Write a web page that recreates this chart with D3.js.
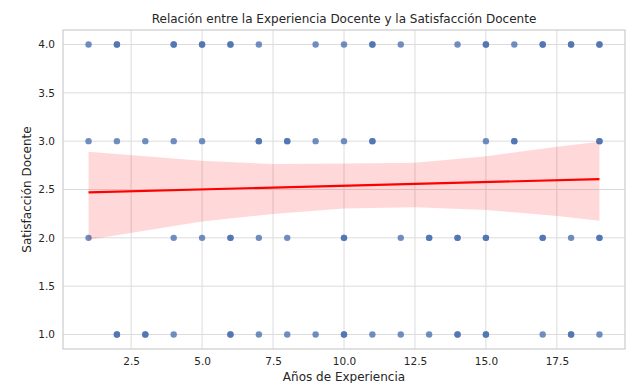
<!DOCTYPE html>
<html>
<head>
<meta charset="utf-8">
<script src="https://cdn.jsdelivr.net/npm/d3@7"></script>
<style>
  html, body { margin: 0; padding: 0; background: #ffffff; }
  svg { display: block; }
  text { font-family: "DejaVu Sans", sans-serif; fill: #262626; }
</style>
</head>
<body>
<svg id="chart" width="627" height="383"></svg>
<script>
// Years of teaching experience and satisfaction score per teacher
const experiencia = [
  1,2,2,4,4,5,5,6,6,7,9,10,11,11,12,14,15,15,16,17,17,18,18,19,19,
  1,2,3,4,5,7,7,8,8,9,10,11,11,15,16,16,19,19,
  1,4,5,6,6,7,8,10,10,12,13,13,14,14,15,15,17,17,18,19,19,
  2,2,3,3,4,6,6,7,8,9,10,10,11,12,13,14,14,15,15,17,18,18,19
];
const satisfaccion = [
  4,4,4,4,4,4,4,4,4,4,4,4,4,4,4,4,4,4,4,4,4,4,4,4,4,
  3,3,3,3,3,3,3,3,3,3,3,3,3,3,3,3,3,3,
  2,2,2,2,2,2,2,2,2,2,2,2,2,2,2,2,2,2,2,2,2,
  1,1,1,1,1,1,1,1,1,1,1,1,1,1,1,1,1,1,1,1,1,1,1
];

// Linear fit and its 95% confidence band
const ajusteIntercepto = 2.463;
const ajustePendiente = 0.0076;
const bandaX = [1, 5, 7.5, 10, 12.5, 15, 17.5, 19];
const bandaSup = [2.89, 2.797, 2.763, 2.768, 2.776, 2.845, 2.941, 2.993];
const bandaInf = [1.979, 2.168, 2.247, 2.304, 2.316, 2.289, 2.227, 2.178];

const xTicks = [2.5, 5.0, 7.5, 10.0, 12.5, 15.0, 17.5];
const yTicks = [1.0, 1.5, 2.0, 2.5, 3.0, 3.5, 4.0];

const titulo = "Relación entre la Experiencia Docente y la Satisfacción Docente";
const etiquetaX = "Años de Experiencia";
const etiquetaY = "Satisfacción Docente";

const margin = { top: 30, right: 2, bottom: 34, left: 63 };
const W = 627, H = 383;
const iw = W - margin.left - margin.right;
const ih = H - margin.top - margin.bottom;

const svg = d3.select("#chart");
const g = svg.append("g").attr("transform", `translate(${margin.left},${margin.top})`);

const x = d3.scaleLinear().domain([0.1, 19.9]).range([0, iw]);
const y = d3.scaleLinear().domain([0.85, 4.15]).range([ih, 0]);

// Grid lines
g.append("g").selectAll("line").data(xTicks).join("line")
  .attr("x1", d => x(d)).attr("x2", d => x(d))
  .attr("y1", 0).attr("y2", ih)
  .attr("stroke", "#dcdcdc").attr("stroke-width", 1);
g.append("g").selectAll("line").data(yTicks).join("line")
  .attr("y1", d => y(d)).attr("y2", d => y(d))
  .attr("x1", 0).attr("x2", iw)
  .attr("stroke", "#dcdcdc").attr("stroke-width", 1);

// Frame
g.append("rect").attr("x", 0).attr("y", 0).attr("width", iw).attr("height", ih)
  .attr("fill", "none").attr("stroke", "#cccccc").attr("stroke-width", 1.2);

// Points
g.append("g").selectAll("circle").data(experiencia.map((e, i) => [e, satisfaccion[i]]))
  .join("circle")
  .attr("cx", d => x(d[0])).attr("cy", d => y(d[1]))
  .attr("r", 3.2)
  .attr("fill", "#4c72b0").attr("fill-opacity", 0.8);

// Confidence band
const banda = bandaX.map((v, i) => ({ x: v, lo: bandaInf[i], hi: bandaSup[i] }));
g.append("path").datum(banda)
  .attr("d", d3.area().x(d => x(d.x)).y0(d => y(d.lo)).y1(d => y(d.hi)))
  .attr("fill", "#ff0000").attr("fill-opacity", 0.15);

// Regression line
const xMin = d3.min(experiencia), xMax = d3.max(experiencia);
g.append("path").datum([xMin, xMax])
  .attr("d", d3.line().x(d => x(d)).y(d => y(ajusteIntercepto + ajustePendiente * d)))
  .attr("fill", "none").attr("stroke", "#ff0000").attr("stroke-width", 2.2);

// Axes
const xAxis = g.append("g").attr("transform", `translate(0,${ih})`)
  .call(d3.axisBottom(x).tickValues(xTicks).tickFormat(d3.format(".1f")).tickSize(0).tickPadding(9));
const yAxis = g.append("g")
  .call(d3.axisLeft(y).tickValues(yTicks).tickFormat(d3.format(".1f")).tickSize(0).tickPadding(8));
[xAxis, yAxis].forEach(a => {
  a.select(".domain").remove();
  a.selectAll("text").attr("font-size", 10.5).attr("fill", "#3a3a3a")
    .attr("font-family", "DejaVu Sans, sans-serif");
});

// Titles
svg.append("text").attr("x", margin.left + iw / 2).attr("y", 23)
  .attr("text-anchor", "middle").attr("font-size", 12).text(titulo);
svg.append("text").attr("x", margin.left + iw / 2).attr("y", 381)
  .attr("text-anchor", "middle").attr("font-size", 12).text(etiquetaX);
svg.append("text")
  .attr("transform", `translate(31,${margin.top + ih / 2}) rotate(-90)`)
  .attr("text-anchor", "middle").attr("font-size", 12).text(etiquetaY);
</script>
</body>
</html>
